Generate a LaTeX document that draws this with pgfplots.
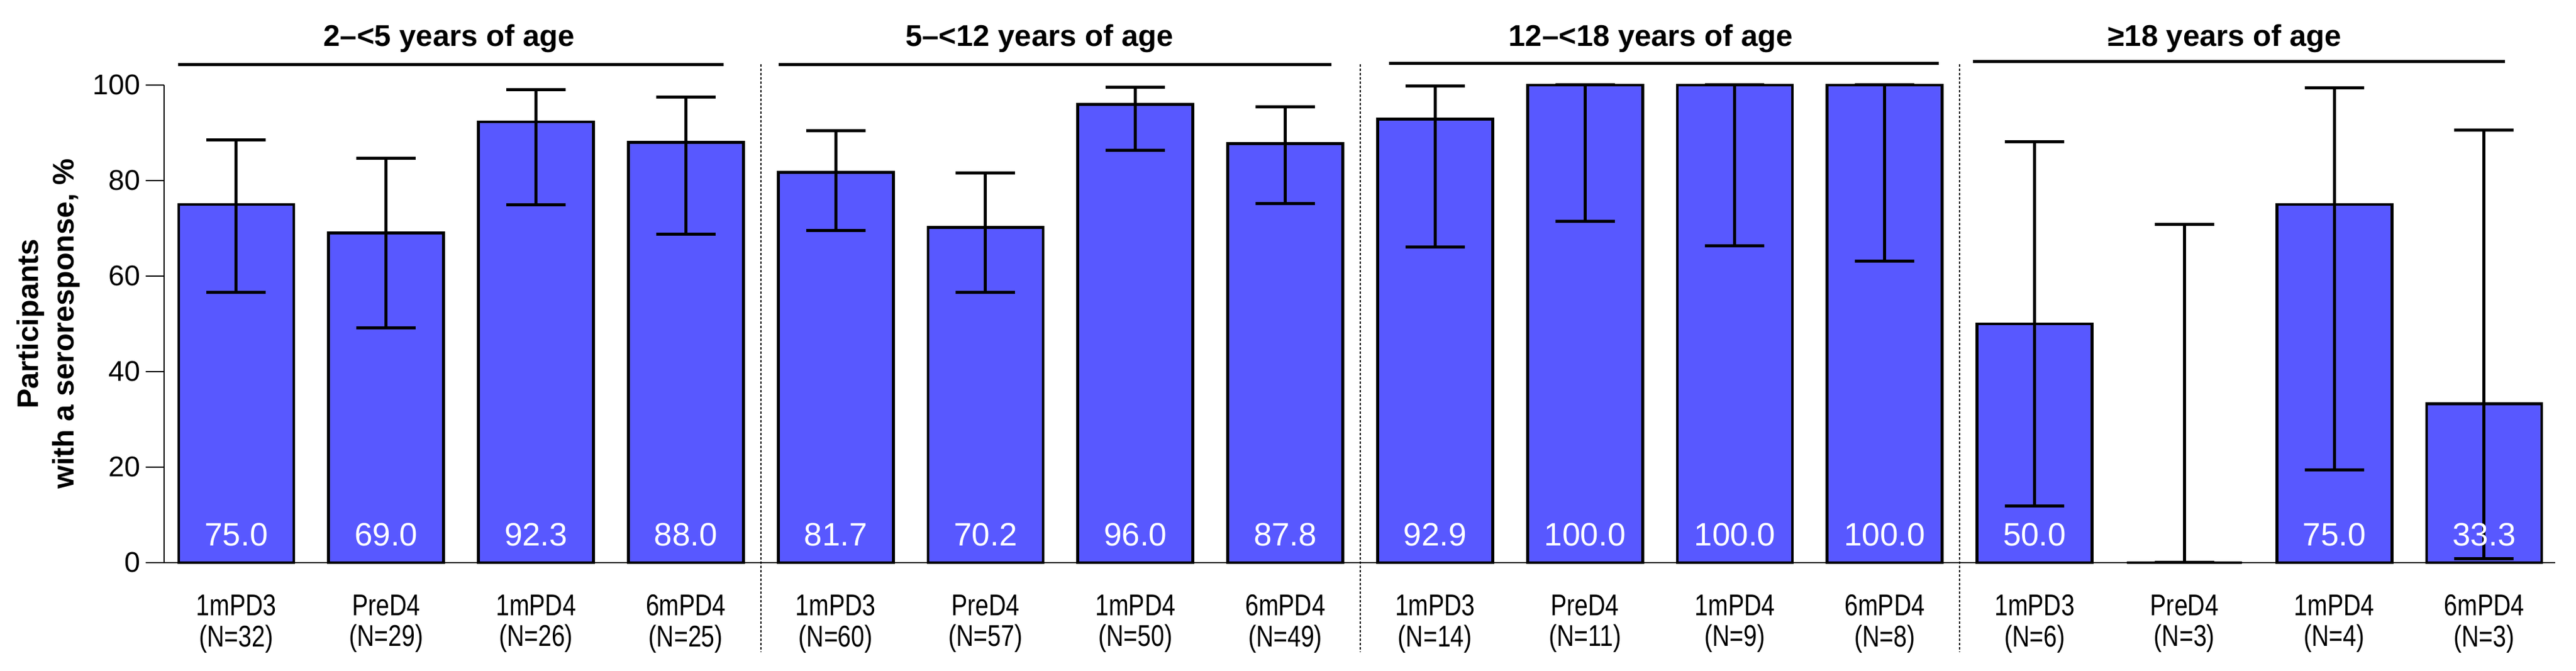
\documentclass[border=0pt]{standalone}
\usepackage{fontspec}
\setmainfont{Liberation Sans}
\newfontfamily\narrowfont[FakeStretch=0.8]{Liberation Sans}
\usepackage{pgfplots}
\pgfplotsset{compat=1.18}
\definecolor{barblue}{RGB}{88,88,255}

\begin{document}
\begin{tikzpicture}
\begin{axis}[
  width=781.2pt, height=156pt, scale only axis,
  xmin=-0.482, xmax=15.474, ymin=0, ymax=100,
  axis lines*=left,
  axis line style={line width=0.55pt, black},
  clip=false,
  ytick={0,20,40,60,80,100},
  tick align=outside,
  major tick length=6pt,
  ytick style={line width=0.55pt, black},
  xtick={0,...,15},
  xtick style={draw=none},
  xticklabels={
    {1mPD3\\(N=32)},{PreD4\\(N=29)},{1mPD4\\(N=26)},{6mPD4\\(N=25)},
    {1mPD3\\(N=60)},{PreD4\\(N=57)},{1mPD4\\(N=50)},{6mPD4\\(N=49)},
    {1mPD3\\(N=14)},{PreD4\\(N=11)},{1mPD4\\(N=9)},{6mPD4\\(N=8)},
    {1mPD3\\(N=6)},{PreD4\\(N=3)},{1mPD4\\(N=4)},{6mPD4\\(N=3)}},
  xticklabel style={align=center, font=\narrowfont\fontsize{9.8}{10.1}\selectfont, yshift=-1pt},
  yticklabel style={font=\fontsize{9.3}{11}\selectfont, inner xsep=1.6pt},
  /pgf/number format/assume math mode=true,
  ylabel={Participants\\with a seroresponse, \%},
  ylabel style={align=center, font=\bfseries\fontsize{9.7}{11.6}\selectfont,
    at={(axis description cs:-0.0485,0.5)}, anchor=center},
]
\addplot[ybar, bar width=0.768, bar shift=0pt, fill=barblue, draw=black, line width=0.95pt,
  error bars/.cd, y dir=both, y explicit,
  error bar style={line width=1pt, black},
  error mark options={rotate=90, line width=1pt, mark size=9.7pt, black}]
coordinates {
  (0,75.0)  += (0,13.5) -= (0,18.4)
  (1,69.0)  += (0,15.7) -= (0,19.8)
  (2,92.3)  += (0,6.8)  -= (0,17.4)
  (3,88.0)  += (0,9.5)  -= (0,19.2)
  (4,81.7)  += (0,8.8)  -= (0,12.1)
  (5,70.2)  += (0,11.4) -= (0,13.6)
  (6,96.0)  += (0,3.5)  -= (0,9.7)
  (7,87.8)  += (0,7.6)  -= (0,12.6)
  (8,92.9)  += (0,6.9)  -= (0,26.8)
  (9,100.0) += (0,0)    -= (0,28.5)
  (10,100.0) += (0,0)   -= (0,33.6)
  (11,100.0) += (0,0)   -= (0,36.9)
  (12,50.0) += (0,38.2) -= (0,38.2)
  (13,0)    += (0,70.8) -= (0,0)
  (14,75.0) += (0,24.4) -= (0,55.6)
  (15,33.3) += (0,57.3) -= (0,32.5)
};
\addplot[draw=none, mark=none, nodes near coords, point meta=explicit symbolic,
  every node near coord/.append style={anchor=center, text=white, font=\fontsize{10.6}{12}\selectfont}]
coordinates {
  (0,5.9)[75.0] (1,5.9)[69.0] (2,5.9)[92.3] (3,5.9)[88.0]
  (4,5.9)[81.7] (5,5.9)[70.2] (6,5.9)[96.0] (7,5.9)[87.8]
  (8,5.9)[92.9] (9,5.9)[100.0] (10,5.9)[100.0] (11,5.9)[100.0]
  (12,5.9)[50.0] (14,5.9)[75.0] (15,5.9)[33.3]
};
% group headers
\draw[line width=1pt] (axis cs:-0.39,104.3) -- (axis cs:3.25,104.3);
\draw[line width=1pt] (axis cs:3.62,104.3) -- (axis cs:7.31,104.3);
\draw[line width=1pt] (axis cs:7.69,104.6) -- (axis cs:11.36,104.6);
\draw[line width=1pt] (axis cs:11.59,104.9) -- (axis cs:15.14,104.9);
\node[font=\bfseries\fontsize{9.8}{12}\selectfont, anchor=base] at (axis cs:1.42,108.1) {2–<5 years of age};
\node[font=\bfseries\fontsize{9.8}{12}\selectfont, anchor=base] at (axis cs:5.36,108.1) {5–<12 years of age};
\node[font=\bfseries\fontsize{9.8}{12}\selectfont, anchor=base] at (axis cs:9.44,108.1) {12–<18 years of age};
\node[font=\bfseries\fontsize{9.8}{12}\selectfont, anchor=base] at (axis cs:13.27,108.1) {≥18 years of age};
% dividers
\draw[line width=0.4pt, dash pattern=on 0.8pt off 0.6pt] (axis cs:3.5,104.4) -- (axis cs:3.5,-18.6);
\draw[line width=0.4pt, dash pattern=on 0.8pt off 0.6pt] (axis cs:7.5,104.4) -- (axis cs:7.5,-18.6);
\draw[line width=0.4pt, dash pattern=on 0.8pt off 0.6pt] (axis cs:11.5,104.4) -- (axis cs:11.5,-18.6);
\end{axis}
\pgfresetboundingbox
\path ([shift={(-53.6pt,-35.4pt)}]current axis.south west) rectangle ([shift={(6.8pt,27.8pt)}]current axis.north east);
\end{tikzpicture}
\end{document}
